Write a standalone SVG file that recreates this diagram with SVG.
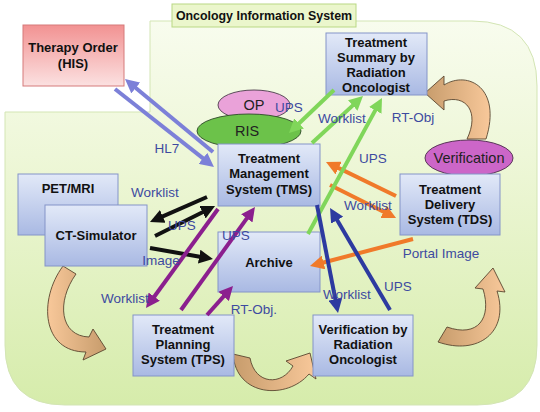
<svg xmlns="http://www.w3.org/2000/svg" width="540" height="412" viewBox="0 0 540 412">
<defs>
<linearGradient id="bg" x1="0" y1="21" x2="0" y2="405" gradientUnits="userSpaceOnUse">
<stop offset="0" stop-color="#f8fcee"/>
<stop offset="0.35" stop-color="#eef7d8"/>
<stop offset="1" stop-color="#d6ecab"/>
</linearGradient>
<linearGradient id="box" x1="0" y1="0" x2="0" y2="1">
<stop offset="0" stop-color="#e2e9f8"/>
<stop offset="1" stop-color="#a9b9e3"/>
</linearGradient>
<linearGradient id="red" x1="0" y1="0" x2="0" y2="1">
<stop offset="0" stop-color="#f29292"/>
<stop offset="1" stop-color="#fbe1e1"/>
</linearGradient>
<linearGradient id="rib" x1="0" y1="0" x2="1" y2="0">
<stop offset="0" stop-color="#f8c89a"/>
<stop offset="1" stop-color="#c79c6c"/>
</linearGradient>
<linearGradient id="rib2" x1="1" y1="0" x2="0" y2="0">
<stop offset="0" stop-color="#f8c89a"/>
<stop offset="1" stop-color="#c79c6c"/>
</linearGradient>
<marker id="mHL7" markerUnits="userSpaceOnUse" markerWidth="14" markerHeight="14" viewBox="0 0 14 14" refX="5" refY="7" orient="auto"><path d="M0,0 L14,7 L0,14 Z" fill="#7c80d8"/></marker>
<marker id="mBlk" markerUnits="userSpaceOnUse" markerWidth="14" markerHeight="14" viewBox="0 0 14 14" refX="5" refY="7" orient="auto"><path d="M0,0 L14,7 L0,14 Z" fill="#111"/></marker>
<marker id="mPur" markerUnits="userSpaceOnUse" markerWidth="14" markerHeight="14" viewBox="0 0 14 14" refX="5" refY="7" orient="auto"><path d="M0,0 L14,7 L0,14 Z" fill="#8b1f8e"/></marker>
<marker id="mGrn" markerUnits="userSpaceOnUse" markerWidth="14" markerHeight="14" viewBox="0 0 14 14" refX="5" refY="7" orient="auto"><path d="M0,0 L14,7 L0,14 Z" fill="#80d65a"/></marker>
<marker id="mOrg" markerUnits="userSpaceOnUse" markerWidth="14" markerHeight="14" viewBox="0 0 14 14" refX="5" refY="7" orient="auto"><path d="M0,0 L14,7 L0,14 Z" fill="#f07a2a"/></marker>
<marker id="mBlu" markerUnits="userSpaceOnUse" markerWidth="14" markerHeight="14" viewBox="0 0 14 14" refX="5" refY="7" orient="auto"><path d="M0,0 L14,7 L0,14 Z" fill="#2d3aa0"/></marker>
</defs>
<style>
.node rect{fill:url(#box);stroke:#8494c8;stroke-width:1}
.nt{font-family:"Liberation Sans",Arial,sans-serif;font-weight:bold;font-size:13px;fill:#111;text-anchor:middle}
.lbl{font-family:"Liberation Sans",Arial,sans-serif;font-size:13.5px;fill:#3d4aa0;text-anchor:middle}
.el{font-family:"Liberation Sans",Arial,sans-serif;font-size:14.5px;fill:#222;text-anchor:middle}
.c{fill:none;stroke-width:4}
.rb{stroke:#5a4630;stroke-width:0.9}
</style>
<rect width="540" height="412" fill="#ffffff"/>
<path d="M150,21 L472,21 Q537,21 537,86 L537,345 Q537,405 477,405 L65,405 Q5,405 5,345 L5,112 L150,112 Z" fill="url(#bg)" stroke="#d3e5b4" stroke-width="1"/>
<g id="title">
<rect x="172" y="4" width="184" height="23" fill="#ebf6cc" stroke="#b9d884" stroke-width="1"/>
<text x="264" y="20" font-family="Liberation Sans, Arial, sans-serif" font-weight="bold" font-size="12.4" fill="#111" text-anchor="middle">Oncology Information System</text>
</g>
<g id="cycle-arrows">
<path class="rb" fill="url(#rib2)" d="M425,93 L444,76 L444,85 C468,70 502,88 486,139 L467,139 C480,112 466,94 444,101 L444,110 Z"/>
<path class="rb" fill="url(#rib)" d="M63,266 C38,300 42,352 86,352 L83,360 L106,349 L93,329 L89,337 C60,336 56,302 76,274 Z"/>
<path class="rb" fill="url(#rib2)" d="M233,354 C236,397 287,400 309,374 L316,379 L310,353 L286,361 L293,366 C282,386 255,385 250,358 Z"/>
<path class="rb" fill="url(#rib2)" d="M493,268 L505,292 L497,291 C510,332 478,356 438,342 L447,327 C478,338 492,318 483,289 L475,288 Z"/>
</g>
<g id="therapy-order">
<rect x="23" y="25" width="101" height="61" fill="url(#red)" stroke="#d57a7a" stroke-width="1"/>
<text class="nt" x="73" y="52">Therapy Order</text>
<text class="nt" x="73" y="68">(HIS)</text>
</g>
<g id="treatment-summary" class="node">
<rect x="326" y="33" width="101" height="62"/>
<text class="nt" x="376" y="46.5">Treatment</text>
<text class="nt" x="376" y="61.5">Summary by</text>
<text class="nt" x="376" y="76.5">Radiation</text>
<text class="nt" x="376" y="91.5">Oncologist</text>
</g>
<g id="op-ris">
<ellipse cx="254" cy="105" rx="36" ry="15" fill="#eaa2d9" stroke="#4a3a4a" stroke-width="0.9"/>
<ellipse cx="249" cy="131" rx="52" ry="17" fill="#6cc24a" stroke="#2f4a2a" stroke-width="0.9"/>
<text class="el" x="254" y="110">OP</text>
<text class="el" x="247" y="136">RIS</text>
</g>
<g id="verification">
<ellipse cx="469" cy="158" rx="44" ry="18" fill="#cc66c8" stroke="#4a2a4a" stroke-width="0.9"/>
<text class="el" x="469" y="163">Verification</text>
</g>
<g id="tms" class="node">
<rect x="218" y="144" width="102" height="62"/>
<text class="nt" x="269" y="162.5">Treatment</text>
<text class="nt" x="269" y="177.5">Management</text>
<text class="nt" x="269" y="193.5">System (TMS)</text>
</g>
<g id="pet-mri" class="node">
<rect x="18" y="174" width="100" height="61"/>
<text class="nt" x="68" y="193">PET/MRI</text>
</g>
<g id="ct-simulator" class="node">
<rect x="45" y="205" width="102" height="61"/>
<text class="nt" x="96" y="240">CT-Simulator</text>
</g>
<g id="tds" class="node">
<rect x="400" y="174" width="100" height="61"/>
<text class="nt" x="450" y="193.5">Treatment</text>
<text class="nt" x="450" y="208.5">Delivery</text>
<text class="nt" x="450" y="223.5">System (TDS)</text>
</g>
<g id="archive" class="node">
<rect x="218" y="232" width="102" height="60"/>
<text class="nt" x="269" y="267" font-size="15.5">Archive</text>
</g>
<g id="tps" class="node">
<rect x="133" y="315" width="101" height="61"/>
<text class="nt" x="183" y="333.5">Treatment</text>
<text class="nt" x="183" y="348.5">Planning</text>
<text class="nt" x="183" y="363.5">System (TPS)</text>
</g>
<g id="verification-ro" class="node">
<rect x="313" y="315" width="100" height="61"/>
<text class="nt" x="363" y="334">Verification by</text>
<text class="nt" x="363" y="348.5">Radiation</text>
<text class="nt" x="363" y="363.5">Oncologist</text>
</g>
<g id="connectors">
<path class="c" stroke="#7c80d8" marker-end="url(#mHL7)" d="M213,152 L131.9,84.8"/>
<path class="c" stroke="#7c80d8" marker-end="url(#mHL7)" d="M115,89 L206.9,161.4"/>
<path class="c" stroke="#111" marker-end="url(#mBlk)" d="M207,197 L158.2,218.4"/>
<path class="c" stroke="#111" marker-end="url(#mBlk)" d="M155,236 L207,210"/>
<path class="c" stroke="#111" marker-end="url(#mBlk)" d="M150,248 L204.1,257.5"/>
<path class="c" stroke="#8b1f8e" marker-end="url(#mPur)" d="M218,209 L151.3,300.7"/>
<path class="c" stroke="#8b1f8e" marker-end="url(#mPur)" d="M181,310 L249.7,214.3"/>
<path class="c" stroke="#8b1f8e" marker-end="url(#mPur)" d="M207,315 L227,292.7"/>
<path class="c" stroke="#f07a2a" marker-end="url(#mOrg)" d="M396,196 L334.1,165.9"/>
<path class="c" stroke="#f07a2a" marker-end="url(#mOrg)" d="M330,185 L388,214"/>
<path class="c" stroke="#f07a2a" marker-end="url(#mOrg)" d="M413,239 L318.7,263.7"/>
<path class="c" stroke="#80d65a" marker-end="url(#mGrn)" d="M334,90 L295.5,126.8"/>
<path class="c" stroke="#80d65a" marker-end="url(#mGrn)" d="M312,143 L356.4,102.1"/>
<path class="c" stroke="#80d65a" marker-end="url(#mGrn)" d="M308,234 L377.7,105.9"/>
<path class="c" stroke="#2d3aa0" marker-end="url(#mBlu)" d="M317,205 L336.3,304.2"/>
<path class="c" stroke="#2d3aa0" marker-end="url(#mBlu)" d="M390,310 L334.6,215.8"/>
</g>
<g id="labels">
<text class="lbl" x="167" y="153">HL7</text>
<text class="lbl" x="155" y="197">Worklist</text>
<text class="lbl" x="182" y="230">UPS</text>
<text class="lbl" x="161" y="265">Image</text>
<text class="lbl" x="125" y="303">Worklist</text>
<text class="lbl" x="236" y="240">UPS</text>
<text class="lbl" x="254" y="314">RT-Obj.</text>
<text class="lbl" x="289" y="112">UPS</text>
<text class="lbl" x="342" y="123">Worklist</text>
<text class="lbl" x="413" y="122">RT-Obj</text>
<text class="lbl" x="373" y="163">UPS</text>
<text class="lbl" x="368" y="210">Worklist</text>
<text class="lbl" x="441" y="258">Portal Image</text>
<text class="lbl" x="347" y="299">Worklist</text>
<text class="lbl" x="398" y="291">UPS</text>
</g>
</svg>
